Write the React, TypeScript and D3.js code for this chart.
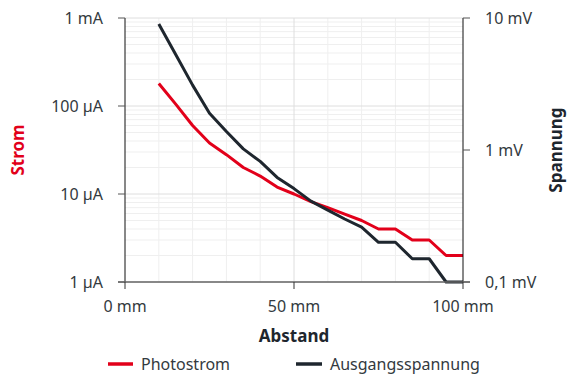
import React from "react";
import * as d3 from "d3";

const distances = [10, 15, 20, 25, 30, 35, 40, 45, 50, 55, 60, 65, 70, 75, 80, 85, 90, 95, 100];
const photostromUA = [180, 105, 60, 38, 28, 20, 16, 12, 10, 8.2, 7, 5.9, 5, 4, 4, 3, 3, 2, 2];
const ausgangMV = [9, 5.3, 3.1, 1.9, 1.38, 1.02, 0.82, 0.62, 0.51, 0.41, 0.35, 0.3, 0.26, 0.2, 0.2, 0.15, 0.15, 0.1, 0.1];
const xTicks = [0, 50, 100];
const xTickLabels = ["0 mm", "50 mm", "100 mm"];
const leftTicks = [1, 10, 100, 1000];
const leftTickLabels = ["1 µA", "10 µA", "100 µA", "1 mA"];
const rightTicks = [0.1, 1, 10];
const rightTickLabels = ["0,1 mV", "1 mV", "10 mV"];
const seriesNames = ["Photostrom", "Ausgangsspannung"];

const W = 569, H = 376;
const M = { left: 125, right: 463, top: 18, bottom: 282 };
const RED = "#e2001a";
const DARK = "#1e262e";
const TXT = "#333a40";
const FONT = "'Noto Sans', sans-serif";

export default function App() {
  const x = d3.scaleLinear().domain([0, 100]).range([M.left, M.right]);
  const yL = d3.scaleLog().domain([1, 1000]).range([M.bottom, M.top]);
  const yR = d3.scaleLog().domain([0.1, 10]).range([M.bottom, M.top]);

  const minorY: number[] = [];
  for (const dec of [1, 10, 100]) for (let k = 2; k <= 9; k++) minorY.push(dec * k);
  const minorX = d3.range(10, 100, 10).filter((v) => v !== 50);

  const lineL = d3.line<number>().x((_, i) => x(distances[i])).y((d) => yL(d));
  const lineR = d3.line<number>().x((_, i) => x(distances[i])).y((d) => yR(d));

  return (
    <svg width={W} height={H} style={{ position: "absolute", left: 0, top: 0 }} fontFamily={FONT}>
      <rect width={W} height={H} fill="#fff" />
      {minorY.map((v) => (
        <line key={"my" + v} x1={M.left} x2={M.right} y1={yL(v)} y2={yL(v)} stroke="#efefef" strokeWidth={1} />
      ))}
      {minorX.map((v) => (
        <line key={"mx" + v} x1={x(v)} x2={x(v)} y1={M.top} y2={M.bottom} stroke="#efefef" strokeWidth={1} />
      ))}
      {leftTicks.map((v) => (
        <line key={"gy" + v} x1={M.left} x2={M.right} y1={yL(v)} y2={yL(v)} stroke="#dedede" strokeWidth={1} />
      ))}
      <line x1={x(50)} x2={x(50)} y1={M.top} y2={M.bottom} stroke="#dedede" strokeWidth={1} />

      <path d={lineL(photostromUA) || ""} fill="none" stroke={RED} strokeWidth={3} strokeLinejoin="round" />
      <path d={lineR(ausgangMV) || ""} fill="none" stroke={DARK} strokeWidth={3} strokeLinejoin="round" />

      {/* left axis */}
      <line x1={M.left} x2={M.left} y1={M.top} y2={M.bottom} stroke="#111" strokeWidth={1} />
      {leftTicks.map((v, i) => (
        <g key={"lt" + v}>
          <line x1={M.left - 7} x2={M.left} y1={yL(v)} y2={yL(v)} stroke="#555" />
          <text x={M.left - 22} y={yL(v)} dy="0.35em" textAnchor="end" fontSize={16} fill={TXT}>
            {leftTickLabels[i]}
          </text>
        </g>
      ))}
      {/* right axis */}
      <line x1={M.right} x2={M.right} y1={M.top} y2={M.bottom} stroke="#111" strokeWidth={1} />
      {rightTicks.map((v, i) => (
        <g key={"rt" + v}>
          <line x1={M.right} x2={M.right + 7} y1={yR(v)} y2={yR(v)} stroke="#555" />
          <text x={M.right + 22} y={yR(v)} dy="0.35em" textAnchor="start" fontSize={16} fill={TXT}>
            {rightTickLabels[i]}
          </text>
        </g>
      ))}
      {/* bottom axis */}
      <line x1={M.left - 7} x2={M.right + 7} y1={M.bottom} y2={M.bottom} stroke="#666" strokeWidth={1.5} />
      {xTicks.map((v, i) => (
        <g key={"xt" + v}>
          <line x1={x(v)} x2={x(v)} y1={M.bottom} y2={M.bottom + 7} stroke="#333" />
          <text x={x(v)} y={M.bottom + 30} textAnchor="middle" fontSize={16} fill={TXT}>
            {xTickLabels[i]}
          </text>
        </g>
      ))}
      <text x={x(50)} y={342} textAnchor="middle" fontSize={17} fontWeight="bold" fill={DARK}>
        Abstand
      </text>
      <text transform={`translate(24,150) rotate(-90)`} textAnchor="middle" fontSize={17} fontWeight="bold" fill={RED}>
        Strom
      </text>
      <text transform={`translate(562,150) rotate(-90)`} textAnchor="middle" fontSize={17} fontWeight="bold" fill={DARK}>
        Spannung
      </text>

      {/* legend */}
      <line x1={108} x2={133} y1={364} y2={364} stroke={RED} strokeWidth={3.5} />
      <text x={141} y={364} dy="0.35em" fontSize={16} fill={TXT}>{seriesNames[0]}</text>
      <line x1={296} x2={322} y1={364} y2={364} stroke={DARK} strokeWidth={3.5} />
      <text x={330} y={364} dy="0.35em" fontSize={16} fill={TXT}>{seriesNames[1]}</text>
    </svg>
  );
}
